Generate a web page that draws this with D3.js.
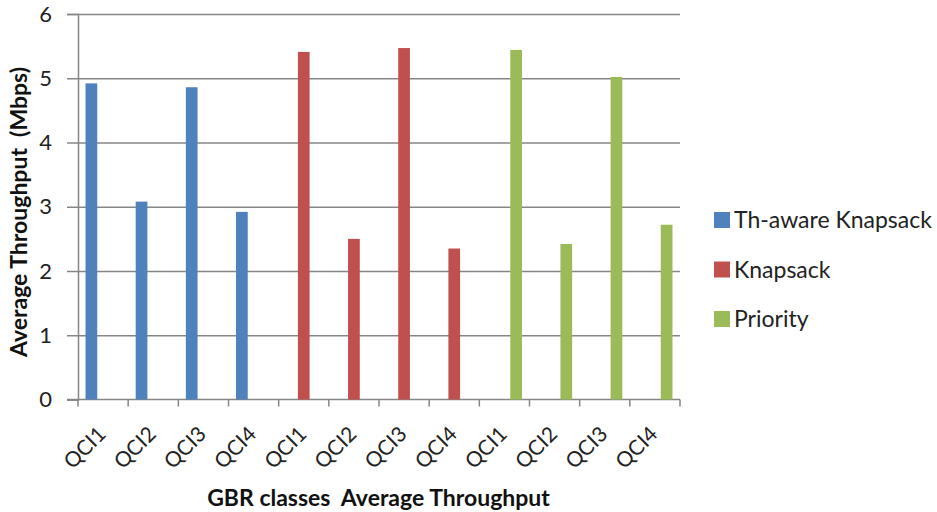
<!DOCTYPE html>
<html>
<head>
<meta charset="utf-8">
<script src="https://cdn.jsdelivr.net/npm/d3@7"></script>
<style>
  html, body { margin: 0; padding: 0; background: #fff; }
  svg { display: block; font-family: Lato, "Open Sans", sans-serif; }
</style>
</head>
<body>
<svg id="chart" width="937" height="512"></svg>
<script>
const categories = ["QCI1","QCI2","QCI3","QCI4","QCI1","QCI2","QCI3","QCI4","QCI1","QCI2","QCI3","QCI4"];
const seriesNames = ["Th-aware Knapsack", "Knapsack", "Priority"];
const thAwareKnapsack = [4.92, 3.08, 4.86, 2.92, 0, 0, 0, 0, 0, 0, 0, 0];
const knapsack        = [0, 0, 0, 0, 5.41, 2.50, 5.47, 2.35, 0, 0, 0, 0];
const priority        = [0, 0, 0, 0, 0, 0, 0, 0, 5.44, 2.42, 5.02, 2.72];
const yTicks = [0, 1, 2, 3, 4, 5, 6];
const colors = ["#4F81BD", "#C0504D", "#9BBB59"];
const allSeries = [thAwareKnapsack, knapsack, priority];

const svg = d3.select("#chart");
const mLeft = 78, mRight = 680, mTop = 14, mBottom = 399.5;

const x0 = d3.scaleBand().domain(d3.range(categories.length)).range([mLeft, mRight]).paddingInner(0.3).paddingOuter(0.15);
const x1 = d3.scaleBand().domain(d3.range(seriesNames.length)).range([0, x0.bandwidth()]).padding(0);
const y = d3.scaleLinear().domain([0, 6]).range([mBottom, mTop]);

// gridlines + y ticks
const yAxis = d3.axisLeft(y).tickValues(yTicks).tickSize(11).tickFormat(d3.format("d"));
const gy = svg.append("g").attr("transform", `translate(${mLeft},0)`).call(yAxis);
gy.select(".domain").attr("stroke", "#868686").attr("stroke-width", 1.5);
gy.selectAll(".tick line").attr("stroke", "#868686").attr("stroke-width", 1.5);
gy.selectAll(".tick text").attr("font-size", 22).attr("fill", "#222").attr("x", -26).attr("font-family", "Lato, sans-serif");
gy.selectAll(".tick").filter(d => d > 0).append("line")
  .attr("x1", 0).attr("x2", mRight - mLeft).attr("stroke", "#868686").attr("stroke-width", 1.5);

// x axis
const slotScale = d3.scaleLinear().domain([0, categories.length]).range([mLeft, mRight]);
const gx = svg.append("g").attr("transform", `translate(0,${mBottom})`);
gx.append("line").attr("x1", mLeft - 11).attr("x2", mRight).attr("stroke", "#868686").attr("stroke-width", 1.5);
gx.selectAll(".xt").data(d3.range(categories.length + 1)).join("line")
  .attr("x1", d => slotScale(d)).attr("x2", d => slotScale(d))
  .attr("y1", 0).attr("y2", 7).attr("stroke", "#868686").attr("stroke-width", 1.5);
gx.selectAll(".xl").data(categories).join("text")
  .attr("text-anchor", "end")
  .attr("font-size", 21)
  .attr("fill", "#222")
  .attr("transform", (d, i) => `translate(${x0(i) + x0.bandwidth() / 2 + 4},${36}) rotate(-45)`)
  .text(d => d);

// bars
const g = svg.append("g");
allSeries.forEach((vals, s) => {
  g.selectAll(".b" + s).data(vals).join("rect")
    .attr("x", (d, i) => x0(i) + x1(s))
    .attr("width", x1.bandwidth())
    .attr("y", d => y(d))
    .attr("height", d => mBottom - y(d))
    .attr("fill", colors[s]);
});

// axis titles
svg.append("text")
  .attr("transform", `translate(27,212) rotate(-90)`)
  .attr("text-anchor", "middle").attr("font-size", 23).attr("font-weight", "bold").attr("fill", "#111")
  .attr("xml:space", "preserve")
  .text("Average Throughput  (Mbps)");
svg.append("text")
  .attr("x", 378.5).attr("y", 506)
  .attr("text-anchor", "middle").attr("font-size", 23).attr("font-weight", "bold").attr("fill", "#111")
  .attr("xml:space", "preserve")
  .text("GBR classes  Average Throughput");

// legend
const legend = svg.append("g");
seriesNames.forEach((name, s) => {
  const cy = 220 + s * 49.5;
  legend.append("rect").attr("x", 714).attr("y", cy - 8).attr("width", 16).attr("height", 16).attr("fill", colors[s]);
  legend.append("text").attr("x", 734).attr("y", cy).attr("dy", "0.36em")
    .attr("font-size", 23).attr("fill", "#222").text(name);
});
</script>
</body>
</html>
